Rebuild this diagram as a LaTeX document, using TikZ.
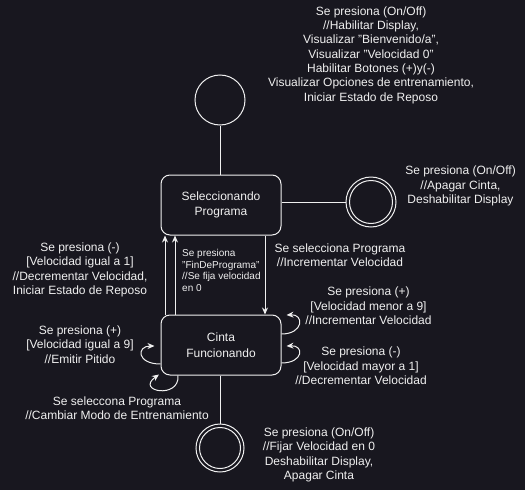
\documentclass[tikz,border=0pt]{standalone}
\usepackage{fontspec}
\setmainfont{Liberation Sans}
\usetikzlibrary{arrows.meta,calc}
\definecolor{bg}{RGB}{24,23,31}
\definecolor{fg}{RGB}{240,240,240}
\begin{document}
\begin{tikzpicture}[x=1pt,y=-1pt,
  every node/.style={text=fg},
  statebox/.style={draw=fg, line width=1pt, rounded corners=9pt, minimum width=120pt, minimum height=60pt, align=center, inner sep=0pt, font=\fontsize{12}{15.5}\selectfont},
  initst/.style={circle, draw=fg, line width=1pt, minimum size=50pt, inner sep=0pt},
  finalst/.style={circle, draw=fg, line width=1pt, minimum size=#1, inner sep=0pt},
  lbl/.style={align=center, inner sep=0pt, font=\fontsize{12}{14.3}\selectfont},
  smalllbl/.style={align=left, inner sep=0pt, anchor=west, font=\fontsize{10}{11.7}\selectfont},
  plain/.style={draw=fg, line width=1pt},
  conn/.style={draw=fg, line width=1pt, -{Stealth[length=7pt,width=6pt]}}]

\fill[bg] (0,0) rectangle (525,490);
\useasboundingbox (0,0) rectangle (525,490);

% states
\node[statebox] (sel) at (221,205) {Seleccionando\\Programa};
\node[statebox] (cin) at (221,345) {Cinta\\Funcionando};
\node[initst] (ini) at (220,100) {};
\node[finalst=50pt] (f1) at (371,202) {};
\node[finalst=43pt] (f1i) at (371,202) {};
\node[finalst=48pt] (f2) at (220,448) {};
\node[finalst=41pt] (f2i) at (220,448) {};

% plain connectors
\draw[plain] (ini.south) -- (ini.south |- sel.north);
\draw[plain] (sel.east |- f1.west) -- (f1.west);
\draw[plain] (f2.north |- cin.south) -- (f2.north);

% transitions between states
\draw[conn] ([xshift=-56pt]cin.north) -- ([xshift=-56pt]sel.south);
\draw[conn] ([xshift=-46pt]cin.north) -- ([xshift=-46pt]sel.south);
\draw[conn] ([xshift=44pt]sel.south) -- ([xshift=44pt]cin.south |- cin.north);

% self loops
\draw[conn] ([yshift=11pt]cin.east) .. controls +(22,0) and +(18,-1) .. ([xshift=5pt,yshift=30pt]cin.east);
\draw[conn] ([yshift=-18pt]cin.east) .. controls +(22,0) and +(18,-1) .. ([xshift=5pt,yshift=-1pt]cin.east);
\draw[conn] ([yshift=-19pt]cin.west) .. controls +(-24,0) and +(-18,0) .. ([xshift=-6pt,yshift=-1pt]cin.west);
\draw[conn] ([xshift=-43pt]cin.south) .. controls +(2,24) and +(-24,17) .. ([xshift=-62pt,yshift=1pt]cin.south);

% labels
\node[lbl] (t1) at (371,55) {Se presiona (On/Off)\\//Habilitar Display,\\Visualizar "Bienvenido/a",\\Visualizar "Velocidad 0"\\Habilitar Botones (+)y(-)\\Visualizar Opciones de entrenamiento,\\Iniciar Estado de Reposo};
\node[lbl] (t2) at (460.5,186) {Se presiona (On/Off)\\//Apagar Cinta,\\Deshabilitar Display};
\node[lbl] (t3) at (340,255.5) {Se selecciona Programa\\//Incrementar Velocidad};
\node[smalllbl] (t4) at (182,270.5) {Se presiona\\"FinDePrograma"\\//Se fija velocidad\\en 0};
\node[lbl] (t5) at (80,270) {Se presiona (-)\\{}[Velocidad igual a 1]\\//Decrementar Velocidad,\\Iniciar Estado de Reposo};
\node[lbl] (t6) at (80,344.5) {Se presiona (+)\\{}[Velocidad igual a 9]\\//Emitir Pitido};
\node[lbl] (t7) at (117,408) {Se seleccona Programa\\//Cambiar Modo de Entrenamiento};
\node[lbl] (t8) at (368.5,306) {Se presiona (+)\\{}[Velocidad menor a 9]\\//Incrementar Velocidad};
\node[lbl] (t9) at (361,366) {Se presiona (-)\\{}[Velocidad mayor a 1]\\//Decrementar Velocidad};
\node[lbl] (t10) at (319,455) {Se presiona (On/Off)\\//Fijar Velocidad en 0\\Deshabilitar Display,\\Apagar Cinta};
\end{tikzpicture}
\end{document}
